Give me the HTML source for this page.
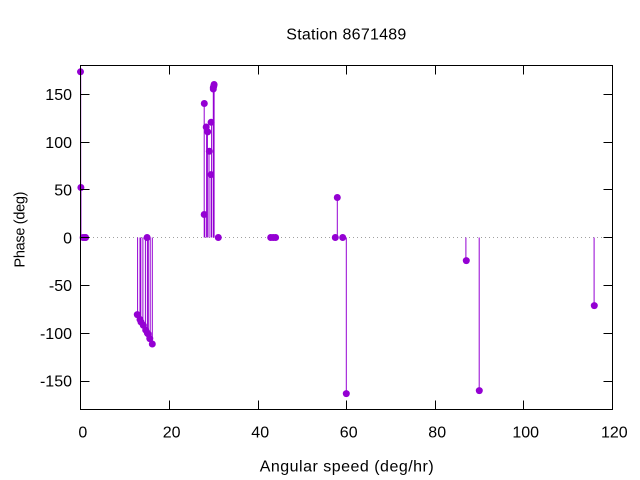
<!DOCTYPE html>
<html>
<head>
<meta charset="utf-8">
<style>
html,body{margin:0;padding:0;background:#fff;}
svg{display:block;}
text{font-family:"Liberation Sans",sans-serif;font-size:16px;fill:#000;}
</style>
</head>
<body>
<svg width="640" height="480" viewBox="0 0 640 480" xmlns="http://www.w3.org/2000/svg">
<rect width="640" height="480" fill="#fff"/>
<!-- zero axis -->
<line x1="81" y1="237.5" x2="612" y2="237.5" stroke="#a0a0a0" stroke-width="1" stroke-dasharray="1 3"/>
<!-- impulses -->
<g stroke="#9400d3" stroke-width="1">
<line x1="80.7" y1="237.5" x2="80.7" y2="72.2"/>
<line x1="80.9" y1="237.5" x2="80.9" y2="187.8"/>
<line x1="137.6" y1="237.5" x2="137.6" y2="314.9"/>
<line x1="140.0" y1="237.5" x2="140.0" y2="319.7"/>
<line x1="140.8" y1="237.5" x2="140.8" y2="322.5"/>
<line x1="142.9" y1="237.5" x2="142.9" y2="325.4"/>
<line x1="145.4" y1="237.5" x2="145.4" y2="330.2"/>
<line x1="147.4" y1="237.5" x2="147.4" y2="333.1"/>
<line x1="148.3" y1="237.5" x2="148.3" y2="334.0"/>
<line x1="150.2" y1="237.5" x2="150.2" y2="338.8"/>
<line x1="152.3" y1="237.5" x2="152.3" y2="344.5"/>
<line x1="204.2" y1="237.5" x2="204.2" y2="103.7"/>
<line x1="204.8" y1="237.5" x2="204.8" y2="214.6"/>
<line x1="206.6" y1="237.5" x2="206.6" y2="126.6"/>
<line x1="207.4" y1="237.5" x2="207.4" y2="131.4"/>
<line x1="209.0" y1="237.5" x2="209.0" y2="151.5"/>
<line x1="211.1" y1="237.5" x2="211.1" y2="174.4"/>
<line x1="211.6" y1="237.5" x2="211.6" y2="121.9"/>
<line x1="213.3" y1="237.5" x2="213.3" y2="89.4"/>
<line x1="213.5" y1="237.5" x2="213.5" y2="87.5"/>
<line x1="213.8" y1="237.5" x2="213.8" y2="85.6"/>
<line x1="214.1" y1="237.5" x2="214.1" y2="83.6"/>
<line x1="337.3" y1="237.5" x2="337.3" y2="197.4"/>
<line x1="346.3" y1="237.5" x2="346.3" y2="394.2"/>
<line x1="465.9" y1="237.5" x2="465.9" y2="260.4"/>
<line x1="479.2" y1="237.5" x2="479.2" y2="390.4"/>
<line x1="594.1" y1="237.5" x2="594.1" y2="305.3"/>
</g>
<!-- points -->
<g fill="#9400d3">
<circle cx="80.5" cy="71.8" r="3.5"/>
<circle cx="80.9" cy="187.5" r="3.5"/>
<circle cx="83.1" cy="237.5" r="3.5"/>
<circle cx="85.2" cy="237.5" r="3.5"/>
<circle cx="85.6" cy="237.5" r="3.5"/>
<circle cx="137.3" cy="314.6" r="3.5"/>
<circle cx="140.0" cy="319.5" r="3.5"/>
<circle cx="141.0" cy="322.0" r="3.5"/>
<circle cx="143.3" cy="325.3" r="3.5"/>
<circle cx="145.7" cy="330.0" r="3.5"/>
<circle cx="147.1" cy="237.5" r="3.5"/>
<circle cx="147.4" cy="333.1" r="3.5"/>
<circle cx="148.3" cy="334.0" r="3.5"/>
<circle cx="149.8" cy="338.6" r="3.5"/>
<circle cx="152.3" cy="344.0" r="3.5"/>
<circle cx="204.3" cy="103.5" r="3.5"/>
<circle cx="204.2" cy="214.5" r="3.5"/>
<circle cx="206.2" cy="127.0" r="3.5"/>
<circle cx="207.7" cy="131.9" r="3.5"/>
<circle cx="209.3" cy="151.3" r="3.5"/>
<circle cx="211.0" cy="174.6" r="3.5"/>
<circle cx="211.1" cy="122.3" r="3.5"/>
<circle cx="213.3" cy="89.0" r="3.5"/>
<circle cx="213.3" cy="87.5" r="3.5"/>
<circle cx="213.8" cy="86.0" r="3.5"/>
<circle cx="214.1" cy="84.5" r="3.5"/>
<circle cx="218.3" cy="237.5" r="3.5"/>
<circle cx="270.7" cy="237.5" r="3.5"/>
<circle cx="273.2" cy="237.5" r="3.5"/>
<circle cx="275.6" cy="237.5" r="3.5"/>
<circle cx="335.3" cy="237.5" r="3.5"/>
<circle cx="337.3" cy="197.5" r="3.5"/>
<circle cx="342.7" cy="237.5" r="3.5"/>
<circle cx="346.3" cy="393.6" r="3.5"/>
<circle cx="466.3" cy="260.6" r="3.5"/>
<circle cx="479.3" cy="390.6" r="3.5"/>
<circle cx="594.3" cy="305.6" r="3.5"/>
</g>
<!-- border -->
<rect x="80.5" y="65.5" width="532" height="344" fill="none" stroke="#000" stroke-width="1"/>
<!-- ticks -->
<g stroke="#000" stroke-width="1">
<line x1="169.5" y1="409.5" x2="169.5" y2="400.5"/><line x1="169.5" y1="65.5" x2="169.5" y2="74.5"/>
<line x1="258.5" y1="409.5" x2="258.5" y2="400.5"/><line x1="258.5" y1="65.5" x2="258.5" y2="74.5"/>
<line x1="346.5" y1="409.5" x2="346.5" y2="400.5"/><line x1="346.5" y1="65.5" x2="346.5" y2="74.5"/>
<line x1="435.5" y1="409.5" x2="435.5" y2="400.5"/><line x1="435.5" y1="65.5" x2="435.5" y2="74.5"/>
<line x1="523.5" y1="409.5" x2="523.5" y2="400.5"/><line x1="523.5" y1="65.5" x2="523.5" y2="74.5"/>
<line x1="80.5" y1="94.5" x2="89.5" y2="94.5"/><line x1="612.5" y1="94.5" x2="603.5" y2="94.5"/>
<line x1="80.5" y1="142.5" x2="89.5" y2="142.5"/><line x1="612.5" y1="142.5" x2="603.5" y2="142.5"/>
<line x1="80.5" y1="189.5" x2="89.5" y2="189.5"/><line x1="612.5" y1="189.5" x2="603.5" y2="189.5"/>
<line x1="80.5" y1="237.5" x2="89.5" y2="237.5"/><line x1="612.5" y1="237.5" x2="603.5" y2="237.5"/>
<line x1="80.5" y1="285.5" x2="89.5" y2="285.5"/><line x1="612.5" y1="285.5" x2="603.5" y2="285.5"/>
<line x1="80.5" y1="333.5" x2="89.5" y2="333.5"/><line x1="612.5" y1="333.5" x2="603.5" y2="333.5"/>
<line x1="80.5" y1="381.5" x2="89.5" y2="381.5"/><line x1="612.5" y1="381.5" x2="603.5" y2="381.5"/>
</g>
<!-- y tick labels -->
<g text-anchor="end">
<text x="72" y="100">150</text>
<text x="72" y="148">100</text>
<text x="72" y="195.5">50</text>
<text x="72" y="243.3">0</text>
<text x="72" y="291">-50</text>
<text x="72" y="339">-100</text>
<text x="72" y="386.6">-150</text>
</g>
<!-- x tick labels -->
<g text-anchor="middle">
<text x="82.8" y="437.7">0</text>
<text x="171.6" y="437.7">20</text>
<text x="260.2" y="437.7">40</text>
<text x="348.7" y="437.7">60</text>
<text x="437.2" y="437.7">80</text>
<text x="525.7" y="437.7">100</text>
<text x="614.3" y="437.7">120</text>
</g>
<!-- titles -->
<text x="346.3" y="39.3" text-anchor="middle" textLength="120" lengthAdjust="spacing">Station 8671489</text>
<text x="346.7" y="471.7" text-anchor="middle" textLength="174" lengthAdjust="spacing">Angular speed (deg/hr)</text>
<text transform="translate(24.5,229.5) rotate(-90)" text-anchor="middle" style="font-size:14.5px" textLength="76" lengthAdjust="spacing">Phase (deg)</text>
</svg>
</body>
</html>
